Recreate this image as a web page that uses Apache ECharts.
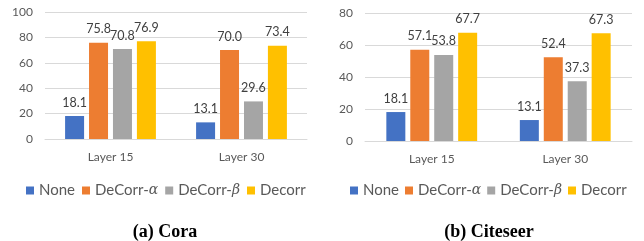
<!DOCTYPE html>
<html><head><meta charset="utf-8">
<script src="https://cdn.jsdelivr.net/npm/echarts@6/dist/echarts.min.js"></script>
<style>html,body{margin:0;padding:0;background:#fff}#c{width:644px;height:241px}</style>
</head><body><div id="c"></div>
<script>
const categories = ['Layer 15', 'Layer 30'];
const seriesNames = ['None', 'DeCorr-α', 'DeCorr-β', 'Decorr'];
const coraNone = [18.1, 13.1];
const coraAlpha = [75.8, 70.0];
const coraBeta = [70.8, 29.6];
const coraDecorr = [76.9, 73.4];
const citeNone = [18.1, 13.1];
const citeAlpha = [57.1, 52.4];
const citeBeta = [53.8, 37.3];
const citeDecorr = [67.7, 67.3];
const coraTicks = {min: 0, max: 100, interval: 20};
const citeTicks = {min: 0, max: 80, interval: 20};
const titles = ['(a) Cora', '(b) Citeseer'];

const colors = ['#4472C4', '#ED7D31', '#A5A5A5', '#FFC000'];
const font = 'Lato';
const chart = echarts.init(document.getElementById('c'), null, {renderer: 'canvas'});

function mkSeries(arrs, idx) {
  return arrs.map((d, i) => ({
    name: seriesNames[i], type: 'bar', xAxisIndex: idx, yAxisIndex: idx,
    data: d, barWidth: 19, barGap: '26%',
    itemStyle: {color: colors[i]},
    label: {show: true, position: 'top', distance: 7, color: '#404040', fontFamily: font, fontSize: 12.5,
      formatter: p => p.value.toFixed(1)}
  }));
}
function legendFmt(n) {
  if (n === 'DeCorr-α') return 'DeCorr-{i|α}';
  if (n === 'DeCorr-β') return 'DeCorr-{i|β}';
  return n;
}
const legendText = {color: '#595959', fontFamily: font, fontSize: 15,
  rich: {i: {fontStyle: 'italic', fontFamily: 'DejaVu Serif', fontSize: 14, color: '#595959'}}};

const xAx = i => ({type: 'category', gridIndex: i, data: categories,
  axisLine: {lineStyle: {color: '#D9D9D9'}}, axisTick: {show: false},
  axisLabel: {color: '#595959', fontFamily: font, fontSize: 12, margin: 12}});
const yAx = (i, t) => ({type: 'value', gridIndex: i, min: t.min, max: t.max, interval: t.interval,
  axisLine: {show: false}, axisTick: {show: false},
  splitLine: {lineStyle: {color: '#D9D9D9'}},
  axisLabel: {color: '#595959', fontFamily: font, fontSize: 12, margin: 12}});

const titleStyle = {fontFamily: 'Liberation Serif', fontWeight: 'bold', fontSize: 18, color: '#000'};
chart.setOption({
  animation: false,
  title: [
    {text: titles[0], left: 165, top: 223, padding: 0, textAlign: 'center', textStyle: titleStyle},
    {text: titles[1], left: 489, top: 223, padding: 0, textAlign: 'center', textStyle: titleStyle}
  ],
  grid: [
    {left: 45, width: 262, top: 12, height: 127},
    {left: 365, width: 267, top: 13, height: 128}
  ],
  legend: [
    {left: 21, top: 178, itemWidth: 8, itemHeight: 8, itemGap: 7, icon: 'rect',
      data: seriesNames, formatter: legendFmt, textStyle: legendText},
    {left: 345, top: 178, itemWidth: 8, itemHeight: 8, itemGap: 6, icon: 'rect',
      data: seriesNames, formatter: legendFmt, textStyle: legendText}
  ],
  xAxis: [xAx(0), xAx(1)],
  yAxis: [yAx(0, coraTicks), yAx(1, citeTicks)],
  series: [...mkSeries([coraNone, coraAlpha, coraBeta, coraDecorr], 0),
           ...mkSeries([citeNone, citeAlpha, citeBeta, citeDecorr], 1)]
});
</script></body></html>
